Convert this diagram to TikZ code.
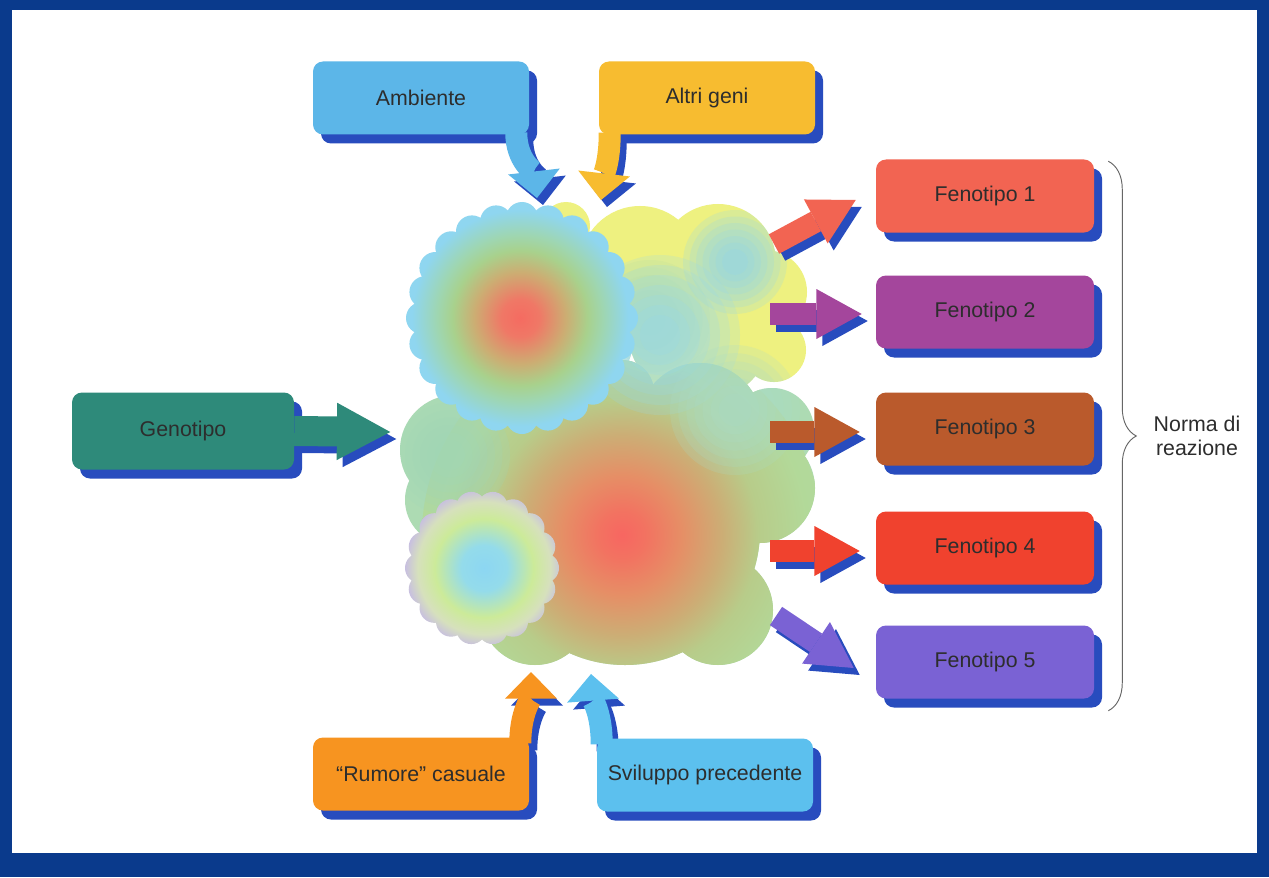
\documentclass[tikz,border=0pt]{standalone}
\usepackage{fontspec}
\setmainfont{Liberation Sans}
\usetikzlibrary{arrows.meta,shadows,decorations.pathreplacing,calc}

\pgfdeclarelayer{paper}
\pgfdeclarelayer{under}
\pgfsetlayers{paper,under,main}

\definecolor{frameblue}{RGB}{10,58,140}
\definecolor{shadowblue}{RGB}{40,76,190}
\definecolor{ink}{RGB}{45,45,45}
\definecolor{ambblue}{RGB}{92,182,232}
\definecolor{altyellow}{RGB}{247,188,48}
\definecolor{genteal}{RGB}{46,138,122}
\definecolor{rumorange}{RGB}{247,148,32}
\definecolor{svblue}{RGB}{92,192,238}
\definecolor{fone}{RGB}{242,100,82}
\definecolor{ftwo}{RGB}{164,70,156}
\definecolor{fthree}{RGB}{186,90,44}
\definecolor{ffour}{RGB}{240,66,46}
\definecolor{ffive}{RGB}{122,98,212}
\definecolor{fieldyellow}{RGB}{238,241,128}
\definecolor{spotblue}{RGB}{140,212,240}
\definecolor{bandblue}{RGB}{150,216,238}
\definecolor{bandteal}{RGB}{170,220,200}
\definecolor{fieldgreen}{RGB}{196,226,140}
\definecolor{fieldouter}{RGB}{173,219,179}
\definecolor{leftgreen}{RGB}{160,214,184}

% radial colour fields of the developmental landscape
% (TikZ maps 50bp to the half diagonal of the shaded path's box)
\pgfdeclareradialshading{fieldA}{\pgfpointorigin}{rgb(0bp)=(.96,.42,.38); rgb(3.5bp)=(.94,.47,.40); rgb(8.5bp)=(.80,.68,.45); rgb(12.5bp)=(.66,.82,.55); rgb(15.5bp)=(.62,.84,.70); rgb(20bp)=(.56,.84,.94); rgb(50bp)=(.55,.84,.95)}
\pgfdeclareradialshading{fieldB}{\pgfpointorigin}{rgb(0bp)=(.97,.40,.38); rgb(3bp)=(.95,.45,.38); rgb(7.5bp)=(.90,.56,.40); rgb(12.5bp)=(.80,.68,.46); rgb(17bp)=(.72,.80,.54); rgb(23bp)=(.70,.85,.60); rgb(50bp)=(.68,.86,.70)}
\pgfdeclareradialshading{fieldC}{\pgfpointorigin}{rgb(0bp)=(.55,.84,.95); rgb(6bp)=(.58,.86,.92); rgb(13bp)=(.80,.92,.60); rgb(17.5bp)=(.84,.88,.74); rgb(22bp)=(.76,.70,.93); rgb(50bp)=(.76,.70,.93)}

% outline of the whole landscape, used to keep the soft patches inside it
\newcommand\landscape{(566,226) circle (24) (640,266) circle (60) (718,262) circle (58)
    (765,292) circle (42) (774,350) circle (32) (700,330) circle (72)
    (625,530) circle (135) (535,610) circle (55) (718,610) circle (55)
    (760,488) circle (55) (565,445) circle (65) (700,425) circle (62)
    (455,450) circle (55) (450,500) circle (45) (772,430) circle (42) (500,480) circle (40)
    (622,392) circle (32) (522,318) circle (115) (482,568) circle (76)}

% soft round patch built from translucent discs
\newcommand\softpatch[3]{%
  \foreach \k in {0,...,6}{\fill[#1, opacity=0.2] (#2) circle ({#3*(1-\k/8)});}}

% block arrow with its blue cast shadow
\newcommand\castarrow[3]{%
  \draw[#1,draw=shadowblue,transform canvas={xshift=4.5pt,yshift=-5.25pt}] #3;
  \draw[#1,draw=#2] #3;}

\begin{document}
\begin{tikzpicture}[x=0.75pt,y=-0.75pt,
  box/.style={rounded corners=7.5pt, inner sep=0pt, minimum width=162pt,
    minimum height=54.75pt, text=ink, font=\fontsize{16}{18}\selectfont,
    drop shadow={shadow xshift=6pt, shadow yshift=-6.75pt, fill=shadowblue, opacity=1}},
  phenobox/.style={box, minimum width=163.5pt},
  genebox/.style={box, minimum width=166.5pt, minimum height=57.75pt},
  sidearrow/.style={line width=16.5pt, -{Triangle[width=37.5pt,length=34pt,line width=0pt]}},
  genearrow/.style={line width=22.5pt, -{Triangle[width=43pt,length=40pt,line width=0pt]}},
  bentarrow/.style={line width=16.5pt, -{Triangle[width=39pt,length=20pt,line width=0pt]}},
  bracestyle/.style={draw=black!60, line width=0.7pt, decorate,
    decoration={brace, amplitude=21pt, aspect=0.5}},
]
\useasboundingbox (0,0) rectangle (1269,877);

\begin{pgfonlayer}{paper}
  % frame
  \fill[frameblue] (0,0) rectangle (1269,877);
  \fill[white] (12,10) rectangle (1257,853);

  % yellow field, upper right
  \fill[fieldyellow] (566,226) circle (24) (640,266) circle (60) (718,262) circle (58)
    (765,292) circle (42) (774,350) circle (32) (700,330) circle (72);

  % large lower field
  \begin{scope}
    \clip (625,530) circle (135) (535,610) circle (55) (718,610) circle (55)
      (760,488) circle (55) (565,445) circle (65) (700,425) circle (62)
      (455,450) circle (55) (450,500) circle (45) (772,430) circle (42) (500,480) circle (40)
      (622,392) circle (32);
    \fill[fieldouter] (380,340) rectangle (840,690);
    \shade[shading=fieldB] (622,535) circle (200);
  \end{scope}

  % soft tints that blend the fields together
  \begin{scope}
    \clip \landscape;
    \softpatch{fieldgreen}{650,320}{60}
    \softpatch{spotblue}{735,262}{52}
    \softpatch{bandblue}{660,335}{80}
    \softpatch{bandteal}{735,410}{65}
    \softpatch{leftgreen}{450,455}{60}
  \end{scope}

  % upper left field
  \begin{scope}
    \clip (522,318) circle (102) foreach \a in {0,15,...,345} {([shift={(522,318)}]\a:100) circle (16)};
    \shade[shading=fieldA] (520,318) circle (135);
  \end{scope}

  % small lower left field
  \begin{scope}
    \clip (482,568) circle (62) foreach \a in {0,20,...,340} {([shift={(482,568)}]\a:62) circle (15)};
    \shade[shading=fieldC] (484,568) circle (95);
  \end{scope}
\end{pgfonlayer}

% boxes
\node[box, fill=ambblue] (amb) at (421,98) {Ambiente};
\node[box, fill=altyellow] (alt) at (707,98) {Altri geni};
\node[genebox, fill=genteal] (gen) at (183,431) {Genotipo};
\node[phenobox, fill=fone] (f1) at (985,196) {Fenotipo 1};
\node[phenobox, fill=ftwo] (f2) at (985,312) {Fenotipo 2};
\node[phenobox, fill=fthree] (f3) at (985,429) {Fenotipo 3};
\node[phenobox, fill=ffour] (f4) at (985,548) {Fenotipo 4};
\node[phenobox, fill=ffive] (f5) at (985,662) {Fenotipo 5};
\node[box, fill=rumorange] (rum) at (421,774) {“Rumore” casuale};
\node[box, fill=svblue] (svi) at (705,775) {Sviluppo precedente};
\node[text=ink, font=\fontsize{16}{18}\selectfont, align=center] (norma) at (1197,436) {Norma di\\reazione};

% arrow ends
\coordinate (ambtail) at ($(amb.south east)+(-13,-2)$);
\coordinate (ambtip) at (537,198);
\coordinate (alttail) at ($(alt.south west)+(11,-2)$);
\coordinate (alttip) at (601,200);
\coordinate (rumtail) at ($(rum.north east)+(-9,6)$);
\coordinate (rumtip) at (531,672);
\coordinate (svitail) at ($(svi.north west)+(5,6)$);
\coordinate (svitip) at (591,674);
\coordinate (gentip) at ($(gen.east)+(96,1)$);
\coordinate (f1tail) at (774,244);
\coordinate (f1tip) at ($(f1.west)+(-20,4)$);
\coordinate (f2tail) at (770,314);
\coordinate (f2tip) at ($(f2.west)+(-14,2)$);
\coordinate (f3tail) at (770,432);
\coordinate (f3tip) at ($(f3.west)+(-16,3)$);
\coordinate (f4tail) at (770,551);
\coordinate (f4tip) at ($(f4.west)+(-16,3)$);
\coordinate (f5tail) at (776,616);
\coordinate (f5tip) at ($(f5.west)+(-22,6)$);

% influences entering from above and from the left
\castarrow{bentarrow}{ambblue}{(ambtail) .. controls +(0,28) and +(-3,-26) .. (ambtip)}
\castarrow{bentarrow}{altyellow}{(alttail) .. controls +(0,28) and +(3,-26) .. (alttip)}
\castarrow{genearrow}{genteal}{(gen.east) -- (gentip)}

% influences entering from below
\begin{pgfonlayer}{under}
  \castarrow{bentarrow}{rumorange}{(rumtail) .. controls +(0,-30) and +(0,26) .. (rumtip)}
  \castarrow{bentarrow}{svblue}{(svitail) .. controls +(0,-30) and +(2,26) .. (svitip)}
\end{pgfonlayer}

% outcomes
\castarrow{sidearrow}{fone}{(f1tail) -- (f1tip)}
\castarrow{sidearrow}{ftwo}{(f2tail) -- (f2tip)}
\castarrow{sidearrow}{fthree}{(f3tail) -- (f3tip)}
\castarrow{sidearrow}{ffour}{(f4tail) -- (f4tip)}
\castarrow{sidearrow}{ffive}{(f5tail) -- (f5tip)}

% reaction norm brace
\draw[bracestyle] ($(f1.north east)+(14,2)$) -- ($(f5.south east)+(14,12)$);
\end{tikzpicture}
\end{document}
